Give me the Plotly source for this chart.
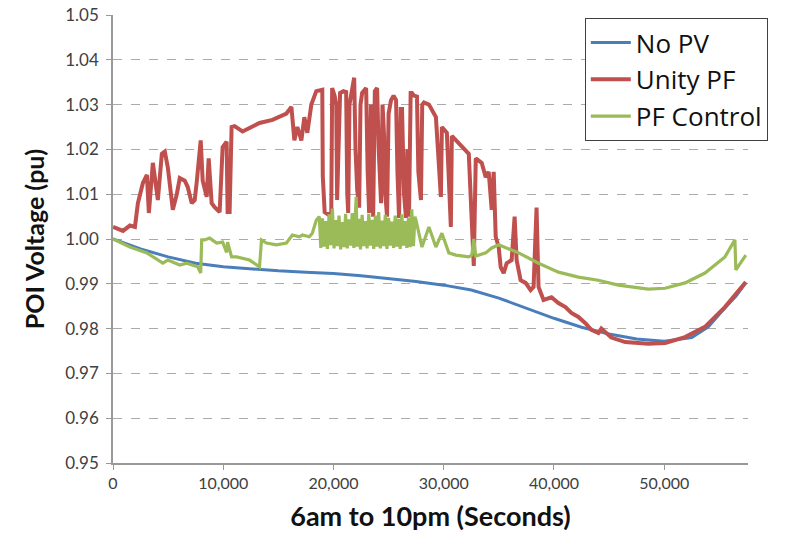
import plotly.graph_objects as go

# ---- data (seconds after 6am, voltage in pu) ----
nopv_t = [0, 2500, 5000, 7500, 10000, 12500, 15000, 17500, 20000, 22500, 25000,
          27500, 30000, 32500, 35000, 37500, 40000, 42500, 45000, 47500, 50000,
          52500, 54000, 55500, 56500, 57400]
nopv_v = [1.0000, 0.9978, 0.9960, 0.9946, 0.9938, 0.9933, 0.9929, 0.9926, 0.9923,
          0.9918, 0.9912, 0.9905, 0.9897, 0.9886, 0.9868, 0.9845, 0.9823, 0.9803,
          0.9788, 0.9777, 0.9772, 0.9780, 0.9804, 0.9846, 0.9872, 0.9902]

unity_t = [0, 904, 1537, 1989, 2260, 2712, 3074, 3254, 3616, 4068, 4430, 4700, 4972,
           5334, 5424, 5786, 6057, 6509, 6780, 7142, 7413, 7594, 7955, 8136, 8498,
           8678, 8950, 9221, 9673, 9944, 10306, 10396, 10577, 10758, 11029, 11752,
           13289, 14464, 15730, 16182, 16453, 16724, 17086, 17357, 17628, 17990,
           18440, 18984, 19030, 19200, 19500, 19800, 19880, 20100, 20250, 20330,
           20450, 20600, 20900, 21150, 21250, 21334, 21450, 21606, 21877, 22000,
           22148, 22329, 22450, 22600, 22962, 23100, 23233, 23400, 23504, 23600,
           23750, 23956, 24100, 24318, 24450, 24590, 24700, 24860, 25000, 25222,
           25450, 25674, 25800, 25945, 26100, 26216, 26400, 26578, 26700, 26850,
           27000, 27120, 27300, 27572, 27700, 27934, 28050, 28206, 28657,
           29290, 29742, 29832, 30284,
           30646, 30736, 31640, 32273, 32725, 32906, 33448, 33810, 34080, 34352,
           34533, 34714, 34985, 35166, 35437, 35708, 36160, 36430, 36612, 36974,
           37426, 37878, 38150, 38420, 38600, 39053, 39776, 40400, 41040, 41584,
           42217, 42850, 43392, 44025, 44296, 45200, 46466, 48545, 50082, 51890,
           53698, 55506, 57400]
unity_v = [1.0027, 1.0018, 1.0030, 1.0027, 1.0080, 1.0125, 1.0143, 1.0058, 1.0170,
           1.0087, 1.0190, 1.0195, 1.0160, 1.0080, 1.0065, 1.0100, 1.0136, 1.0130,
           1.0116, 1.0080, 1.0087, 1.0127, 1.0220, 1.0130, 1.0094, 1.0180, 1.0080,
           1.0071, 1.0060, 1.0205, 1.0217, 1.0060, 1.0060, 1.0250, 1.0252, 1.0240,
           1.0259, 1.0266, 1.0280, 1.0295, 1.0220, 1.0250, 1.0220, 1.0272, 1.0237,
           1.0300,
           1.0330, 1.0333, 1.0140, 1.0060, 1.0055, 1.0060, 1.0337, 1.0320, 1.0300,
           1.0087, 1.0200, 1.0326, 1.0330, 1.0328, 1.0100, 1.0058, 1.0300, 1.0326,
           1.0360, 1.0200, 1.0110, 1.0070, 1.0300, 1.0326, 1.0337, 1.0150, 1.0058,
           1.0300, 1.0160, 1.0050, 1.0330, 1.0337, 1.0200, 1.0080, 1.0300, 1.0230,
           1.0100, 1.0050, 1.0280, 1.0310, 1.0320, 1.0310, 1.0150, 1.0047, 1.0290,
           1.0290, 1.0100, 1.0047, 1.0200, 1.0050, 1.0326, 1.0326, 1.0320, 1.0318,
           1.0150, 1.0087, 1.0300, 1.0305, 1.0300,
           1.0272, 1.0094, 1.0250, 1.0237, 1.0027, 1.0230, 1.0205, 1.0190,
           0.9940, 1.0180, 1.0170, 1.0138, 1.0150, 1.0065, 1.0150, 1.0005, 0.9982,
           0.9937, 0.9924, 0.9946, 0.9953, 1.0050, 0.9953, 0.9908, 0.9902, 0.9886,
           0.9893, 1.0070, 0.9893, 0.9864, 0.9870, 0.9857, 0.9848, 0.9835, 0.9826,
           0.9812, 0.9797, 0.9790, 0.9800, 0.9780, 0.9770, 0.9766, 0.9768, 0.9781,
           0.9804, 0.9848, 0.9904]

pfc_t = [0, 1537, 3074, 3616, 3978, 4520, 4972, 5605, 6057, 6690, 7232, 7684, 7955,
         8046, 8317, 8769, 9402, 9944, 10306, 10396, 10758, 11210, 12385, 13289,
         13470, 13922, 14826, 15730, 16272, 16905, 17176, 17809, 18080, 18440,
         18713, 18850, 19000, 19150, 19300, 19450, 19600, 19750, 19900, 20050,
         20200, 20350, 20500, 20650, 20800, 20950, 21100, 21250, 21400, 21550,
         21700, 21850, 22000, 22058, 22150, 22300, 22450, 22600, 22750, 22900,
         23050, 23200, 23350, 23500, 23650, 23800, 23950, 24100, 24250, 24400,
         24550, 24700, 24850, 25000, 25150, 25300, 25450, 25600, 25750, 25900,
         26050, 26200, 26350, 26500, 26650, 26800, 26950, 27100, 27250, 27391,
         27482, 28024, 28657, 29290, 29832, 30465,
         31098, 32273, 32544, 32725, 32906, 33810, 34352, 34985, 36793, 38601,
         40409, 42217, 44025, 45833, 48545, 50082, 51890, 53698, 55506, 56410,
         56500, 57404]
pfc_v = [1.0000, 0.9982, 0.9969, 0.9960, 0.9953, 0.9946, 0.9953, 0.9946, 0.9942,
         0.9946, 0.9942, 0.9938, 0.9924, 0.9998, 0.9998, 1.0002, 0.9991, 0.9993,
         0.9970, 0.9993, 0.9960, 0.9960, 0.9953, 0.9938, 0.9998, 0.9991, 0.9987,
         0.9991, 1.0009, 1.0005, 1.0009, 1.0005, 1.0013, 1.0042,
         1.0050, 0.9980, 1.0046, 0.9983, 1.0040, 0.9978, 1.0055, 0.9986, 1.0068,
         0.9979, 1.0042, 0.9984, 1.0052, 0.9977, 1.0038, 0.9982, 1.0056, 0.9979,
         1.0044, 0.9985, 1.0058, 0.9980, 1.0062, 1.0094, 0.9983, 1.0045, 0.9977,
         1.0054, 0.9984, 1.0040, 0.9979, 1.0056, 0.9985, 1.0043, 0.9978, 1.0052,
         0.9983, 1.0060, 0.9979, 1.0041, 0.9984, 1.0054, 0.9978, 1.0047, 0.9985,
         1.0039, 0.9980, 1.0052, 0.9983, 1.0045, 0.9978, 1.0055, 0.9985, 1.0040,
         0.9980, 1.0048, 0.9982, 1.0066, 0.9984, 1.0050,
         1.0042, 0.9982, 1.0027, 0.9982, 1.0013, 0.9969,
         0.9964, 0.9960, 0.9964, 1.0000, 0.9962, 0.9969, 0.9980, 0.9987, 0.9969,
         0.9946, 0.9926, 0.9915, 0.9908, 0.9897, 0.9888, 0.9890, 0.9902, 0.9924,
         0.9960, 0.9998, 0.9931, 0.9964]

series_names = ["No PV", "Unity PF", "PF Control"]
series_colors = ["#4A7EBB", "#C0504D", "#9BBB59"]
series_widths = [3, 4, 3.2]

y_ticks = [0.95, 0.96, 0.97, 0.98, 0.99, 1.00, 1.01, 1.02, 1.03, 1.04, 1.05]
x_ticks = [0, 10000, 20000, 30000, 40000, 50000]

FONT = "Lato, 'Open Sans', sans-serif"

fig = go.Figure()
for name, color, w, t, v in zip(series_names, series_colors, series_widths,
                                [nopv_t, unity_t, pfc_t], [nopv_v, unity_v, pfc_v]):
    fig.add_trace(go.Scatter(x=t, y=v, mode="lines", name=name,
                             line=dict(color=color, width=w)))

fig.update_layout(
    width=797, height=543,
    margin=dict(l=113, r=49, t=15, b=80, autoexpand=False),
    paper_bgcolor="white", plot_bgcolor="white",
    font=dict(family=FONT, color="#404040", size=16),
    showlegend=True,
    legend=dict(x=0.743, y=0.993, xanchor="left", yanchor="top",
                bgcolor="white", bordercolor="#404040", borderwidth=1,
                font=dict(family="'Open Sans', sans-serif", size=26, color="#111111"),
                tracegroupgap=0, itemwidth=40),
)
fig.update_xaxes(
    range=[0, 57600], tickvals=x_ticks, tickformat=",d",
    showgrid=False, zeroline=False, automargin=False,
    showline=True, linecolor="#999999", linewidth=1.5,
    ticks="outside", ticklen=5, tickcolor="#999999",
    tickfont=dict(size=16, color="#404040"),
    title=dict(text="<b>6am to 10pm (Seconds)</b>", font=dict(size=27, color="#111111"),
               standoff=16),
)
fig.update_yaxes(
    range=[0.95, 1.05], tickvals=y_ticks, tickformat=".2f",
    showgrid=True, gridcolor="#AAAAAA", griddash="dash", gridwidth=1,
    zeroline=False, automargin=False,
    showline=True, linecolor="#999999", linewidth=1.5,
    ticks="outside", ticklen=5, tickcolor="#999999",
    tickfont=dict(size=17, color="#404040"),
    ticklabelstandoff=4,
    title=dict(text="<b>POI Voltage (pu)</b>", font=dict(size=25, color="#111111"),
               standoff=14),
)

fig.write_html("out.html", config={"displayModeBar": False},
               post_script="document.body.style.margin='0px';")
